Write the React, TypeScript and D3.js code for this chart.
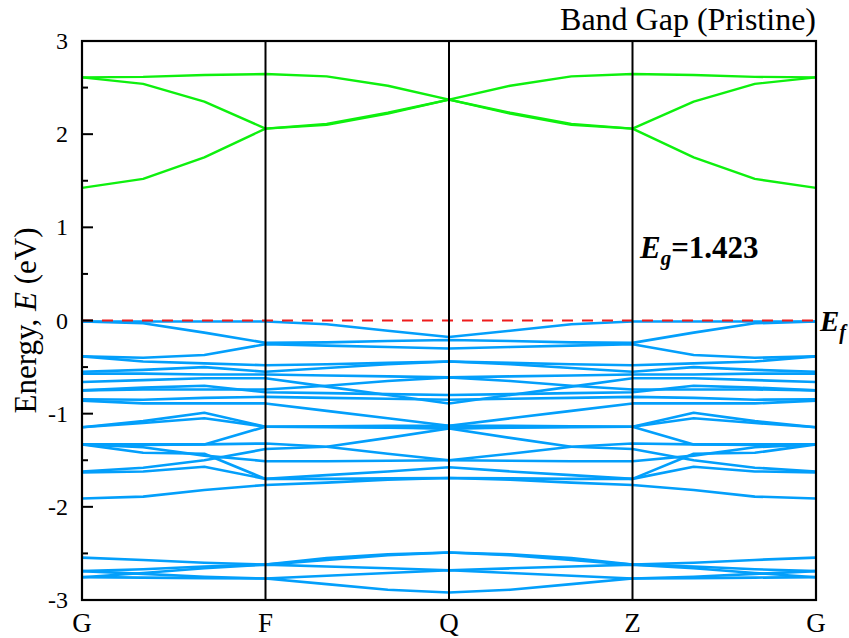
import { useMemo } from 'react'
import * as d3 from 'd3'

const W = 849
const H = 638
const M = { left: 82, right: 816, top: 41, bottom: 600 }

// high symmetry points along the path, each segment sampled at 4 k-points
const K_LABELS = ['G', 'F', 'Q', 'Z', 'G']
const K_LABEL_INDEX = [0, 3, 6, 9, 12]

const Y_TICKS = [-3, -2, -1, 0, 1, 2, 3]
const Y_MINOR = [-2.5, -1.5, -0.5, 0.5, 1.5, 2.5]

// conduction bands (eV)
const C1 = [1.423, 1.52, 1.75, 2.06, 2.10, 2.22, 2.37, 2.22, 2.10, 2.06, 1.75, 1.52, 1.423]
const C2 = [2.61, 2.54, 2.35, 2.06, 2.11, 2.23, 2.37, 2.23, 2.11, 2.06, 2.35, 2.54, 2.61]
const C3 = [2.61, 2.615, 2.635, 2.645, 2.62, 2.52, 2.37, 2.52, 2.62, 2.645, 2.635, 2.615, 2.61]

// valence bands (eV)
const U1 = [-0.01, -0.01, -0.01, -0.01, -0.04, -0.11, -0.177, -0.11, -0.04, -0.01, -0.01, -0.01, -0.01]
const U2 = [-0.01, -0.03, -0.13, -0.24, -0.235, -0.22, -0.21, -0.22, -0.235, -0.24, -0.13, -0.03, -0.01]
const U3 = [-0.385, -0.40, -0.37, -0.255, -0.27, -0.285, -0.30, -0.285, -0.27, -0.255, -0.37, -0.40, -0.385]
const U4 = [-0.385, -0.44, -0.46, -0.48, -0.47, -0.455, -0.44, -0.455, -0.47, -0.48, -0.46, -0.44, -0.385]
const U5 = [-0.55, -0.53, -0.50, -0.55, -0.51, -0.47, -0.44, -0.47, -0.51, -0.55, -0.50, -0.53, -0.55]
const U6 = [-0.57, -0.57, -0.58, -0.58, -0.59, -0.60, -0.61, -0.60, -0.59, -0.58, -0.58, -0.57, -0.57]
const U7 = [-0.66, -0.64, -0.62, -0.62, -0.71, -0.80, -0.89, -0.80, -0.71, -0.62, -0.62, -0.64, -0.66]
const U8 = [-0.75, -0.74, -0.74, -0.74, -0.70, -0.65, -0.61, -0.65, -0.70, -0.74, -0.74, -0.74, -0.75]
const U9 = [-0.75, -0.72, -0.70, -0.77, -0.78, -0.79, -0.80, -0.79, -0.78, -0.77, -0.70, -0.72, -0.75]
const U10 = [-0.845, -0.85, -0.83, -0.82, -0.83, -0.84, -0.85, -0.84, -0.83, -0.82, -0.83, -0.85, -0.845]
const U11 = [-0.86, -0.89, -0.89, -0.89, -0.97, -1.05, -1.13, -1.05, -0.97, -0.89, -0.89, -0.89, -0.86]

const M1 = [-1.146, -1.08, -0.99, -1.14, -1.145, -1.15, -1.16, -1.15, -1.145, -1.14, -0.99, -1.08, -1.146]
const M2 = [-1.146, -1.10, -1.05, -1.14, -1.14, -1.145, -1.16, -1.145, -1.14, -1.14, -1.05, -1.10, -1.146]
const M3 = [-1.33, -1.33, -1.33, -1.14, -1.135, -1.13, -1.13, -1.13, -1.135, -1.14, -1.33, -1.33, -1.33]
const M4 = [-1.33, -1.335, -1.33, -1.32, -1.355, -1.43, -1.50, -1.43, -1.355, -1.32, -1.33, -1.335, -1.33]
const M5 = [-1.33, -1.42, -1.43, -1.70, -1.66, -1.62, -1.575, -1.62, -1.66, -1.70, -1.43, -1.42, -1.33]
const M6 = [-1.62, -1.58, -1.50, -1.38, -1.355, -1.26, -1.16, -1.26, -1.355, -1.38, -1.50, -1.58, -1.62]
const M7 = [-1.63, -1.62, -1.57, -1.70, -1.70, -1.695, -1.69, -1.695, -1.70, -1.70, -1.57, -1.62, -1.63]
const M8 = [-1.91, -1.89, -1.82, -1.765, -1.74, -1.71, -1.69, -1.71, -1.74, -1.765, -1.82, -1.89, -1.91]
const M9 = [-1.33, -1.36, -1.45, -1.51, -1.51, -1.505, -1.50, -1.505, -1.51, -1.51, -1.45, -1.36, -1.33]

const L1 = [-2.545, -2.57, -2.60, -2.62, -2.55, -2.51, -2.49, -2.51, -2.55, -2.62, -2.60, -2.57, -2.545]
const L2 = [-2.69, -2.67, -2.64, -2.62, -2.57, -2.52, -2.49, -2.52, -2.57, -2.62, -2.64, -2.67, -2.69]
const L3 = [-2.755, -2.71, -2.66, -2.62, -2.64, -2.66, -2.68, -2.66, -2.64, -2.62, -2.66, -2.71, -2.755]
const L4 = [-2.69, -2.72, -2.75, -2.77, -2.74, -2.71, -2.68, -2.71, -2.74, -2.77, -2.75, -2.72, -2.69]
const L5 = [-2.755, -2.76, -2.765, -2.77, -2.83, -2.89, -2.92, -2.89, -2.83, -2.77, -2.765, -2.76, -2.755]

const CONDUCTION = [C1, C2, C3]
const VALENCE = [U1, U2, U3, U4, U5, U6, U7, U8, U9, U10, U11, M1, M2, M3, M4, M5, M6, M7, M8, M9, L1, L2, L3, L4, L5]

const E_GAP = 1.423

const FONT = '"Liberation Serif", "Times New Roman", serif'
const BLUE = '#039ffb'
const GREEN = '#0ef00e'

export default function App() {
  const x = useMemo(() => d3.scaleLinear().domain([0, 12]).range([M.left, M.right]), [])
  const y = useMemo(() => d3.scaleLinear().domain([-3, 3]).range([M.bottom, M.top]), [])
  const line = d3.line<number>().x((_, i) => x(i)).y((d) => y(d))

  return (
    <svg width={W} height={H} style={{ position: 'absolute', left: 0, top: 0 }} fontFamily={FONT}>
      <rect width={W} height={H} fill="#fff" />

      {/* bands */}
      {VALENCE.map((b, i) => (
        <path key={'v' + i} d={line(b) ?? ''} fill="none" stroke={BLUE} strokeWidth={2.6} strokeLinejoin="round" />
      ))}
      {CONDUCTION.map((b, i) => (
        <path key={'c' + i} d={line(b) ?? ''} fill="none" stroke={GREEN} strokeWidth={2.4} strokeLinejoin="round" />
      ))}

      {/* fermi level */}
      <line x1={M.left} x2={M.right} y1={y(0)} y2={y(0)} stroke="#ee1c1c" strokeWidth={2} strokeDasharray="11 9" />

      {/* high symmetry lines */}
      {K_LABEL_INDEX.slice(1, -1).map((k) => (
        <line key={k} x1={x(k)} x2={x(k)} y1={M.top} y2={M.bottom} stroke="#000" strokeWidth={2} />
      ))}

      {/* frame */}
      <rect x={M.left} y={M.top} width={M.right - M.left} height={M.bottom - M.top} fill="none" stroke="#000" strokeWidth={2.2} />

      {/* y ticks */}
      {Y_TICKS.map((t) => (
        <g key={t}>
          <line x1={M.left} x2={M.left + 11} y1={y(t)} y2={y(t)} stroke="#000" strokeWidth={2} />
          <text x={68} y={y(t) + 8} textAnchor="end" fontSize={24}>{t}</text>
        </g>
      ))}
      {Y_MINOR.map((t) => (
        <line key={t} x1={M.left} x2={M.left + 6} y1={y(t)} y2={y(t)} stroke="#000" strokeWidth={2} />
      ))}

      {/* k labels */}
      {K_LABELS.map((l, i) => (
        <text key={i} x={x(K_LABEL_INDEX[i])} y={632} textAnchor="middle" fontSize={27}>{l}</text>
      ))}

      {/* axis title */}
      <text transform={`translate(36, ${(M.top + M.bottom) / 2}) rotate(-90)`} textAnchor="middle" fontSize={31}>
        Energy, <tspan fontStyle="italic">E</tspan> (eV)
      </text>

      <text x={M.right} y={30} textAnchor="end" fontSize={32}>Band Gap (Pristine)</text>

      {/* annotations */}
      <text x={640} y={y(0.67)} fontSize={31} fontWeight="bold">
        <tspan fontStyle="italic">E</tspan>
        <tspan fontStyle="italic" fontSize={21} dy={7}>g</tspan>
        <tspan dy={-7}>={E_GAP.toFixed(3)}</tspan>
      </text>
      <text x={820} y={y(0) + 10} fontSize={29} fontWeight="bold" fontStyle="italic">
        E<tspan fontSize={20} dy={8}>f</tspan>
      </text>
    </svg>
  )
}
